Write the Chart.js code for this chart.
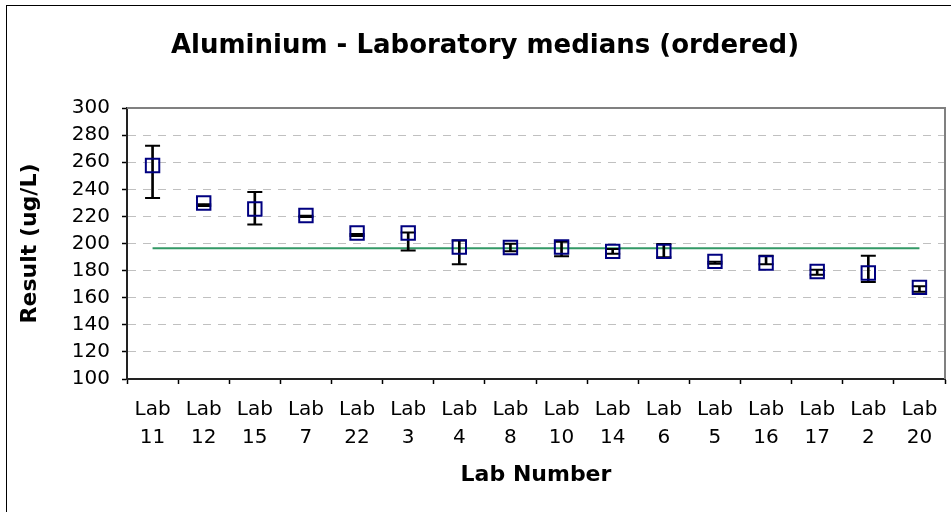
<!DOCTYPE html>
<html>
<head>
<meta charset="utf-8">
<script src="https://cdn.jsdelivr.net/npm/chart.js@4/dist/chart.umd.min.js"></script>
<style>
  body { margin: 0; background: #fff; }
  canvas { display: block; }
</style>
</head>
<body>
<canvas id="medianChart" width="951" height="512"></canvas>
<script>
// lab order as in the picture (sorted by median)
const labs = ['Lab 11', 'Lab 12', 'Lab 15', 'Lab 7', 'Lab 22', 'Lab 3', 'Lab 4', 'Lab 8',
  'Lab 10', 'Lab 14', 'Lab 6', 'Lab 5', 'Lab 16', 'Lab 17', 'Lab 2', 'Lab 20']
const medians = [257.6, 229.9, 225.5, 220.7, 207.7, 207.7, 197.4, 197.1,
  197.4, 194.2, 194.2, 186.8, 185.6, 179.4, 178.2, 167.6]
const errHigh = [272.2, 229.0, 238.0, 220.5, 207.0, 208.2, 202.3, 199.9,
  201.3, 196.0, 199.6, 186.5, 191.0, 180.7, 191.0, 168.4]
const errLow = [233.6, 227.6, 214.1, 219.6, 205.6, 194.9, 184.6, 194.2,
  190.5, 192.5, 189.8, 185.1, 184.6, 177.0, 171.6, 164.4]
// assigned value line
const assigned = [196.5, 196.5, 196.5, 196.5, 196.5, 196.5, 196.5, 196.5,
  196.5, 196.5, 196.5, 196.5, 196.5, 196.5, 196.5, 196.5]
const yTicks = [100, 120, 140, 160, 180, 200, 220, 240, 260, 280, 300]
const chartTitle = 'Aluminium - Laboratory medians (ordered)'

const FONT = "'DejaVu Sans', Verdana, sans-serif"

const frame = {
  id: 'frame',
  beforeDraw(chart) {
    const ctx = chart.ctx
    ctx.save()
    ctx.fillStyle = '#fff'
    ctx.fillRect(0, 0, chart.width, chart.height)
    ctx.strokeStyle = '#000'
    ctx.lineWidth = 1
    ctx.strokeRect(6.5, 5.5, 970, 530)
    ctx.restore()
  },
  afterDraw(chart) {
    const {ctx, chartArea: a} = chart
    ctx.save()
    ctx.strokeStyle = '#808080'
    ctx.lineWidth = 2
    ctx.beginPath()
    ctx.moveTo(a.left, a.top)
    ctx.lineTo(a.right, a.top)
    ctx.lineTo(a.right, a.bottom)
    ctx.stroke()
    // title sits a bit right of the canvas centre
    ctx.fillStyle = '#000'
    ctx.font = 'bold 26px ' + FONT
    ctx.textAlign = 'center'
    ctx.textBaseline = 'middle'
    ctx.fillText(chartTitle, 485, 46)
    ctx.restore()
  }
}

new Chart(document.getElementById('medianChart'), {
  data: {
    labels: labs,
    datasets: [
      {
        type: 'line',
        label: 'Median',
        data: medians,
        showLine: false,
        pointStyle: 'rect',
        pointRadius: 9.5,
        pointBorderWidth: 2,
        pointBorderColor: '#000080',
        pointBackgroundColor: 'rgba(0,0,0,0)',
        order: 0
      },
      {
        type: 'line',
        label: 'high',
        data: errHigh,
        showLine: false,
        pointStyle: 'line',
        pointRadius: 7.5,
        pointBorderWidth: 2,
        pointBorderColor: '#000',
        order: 1
      },
      {
        type: 'line',
        label: 'low',
        data: errLow,
        showLine: false,
        pointStyle: 'line',
        pointRadius: 7.5,
        pointBorderWidth: 2,
        pointBorderColor: '#000',
        order: 1
      },
      {
        type: 'bar',
        label: 'range',
        data: errLow.map((lo, i) => [lo, errHigh[i]]),
        barThickness: 2,
        backgroundColor: '#000',
        order: 2
      },
      {
        type: 'line',
        label: 'Assigned',
        data: assigned,
        borderColor: '#339966',
        borderWidth: 2,
        pointRadius: 0,
        order: 3
      }
    ]
  },
  options: {
    responsive: false,
    animation: false,
    events: [],
    layout: { autoPadding: false, padding: { left: 0, right: 6, top: 108, bottom: 0 } },
    plugins: {
      legend: { display: false },
      tooltip: { enabled: false },
      title: { display: false }
    },
    scales: {
      x: {
        offset: true,
        afterFit(s) {
          s.height = 133
          s.paddingLeft = 0
          s.paddingRight = 0
        },
        grid: {
          offset: true,
          drawOnChartArea: false,
          tickLength: 5,
          tickColor: '#000',
          tickWidth: 1.5
        },
        border: { color: '#222', width: 2 },
        ticks: {
          color: '#000',
          padding: 12,
          maxRotation: 0,
          autoSkip: false,
          font: { family: FONT, size: 20, lineHeight: 1.4 },
          callback(v) { return labs[v].split(' ') }
        },
        title: {
          display: true,
          text: 'Lab Number',
          color: '#000',
          font: { family: FONT, size: 22, weight: 'bold' },
          padding: { top: 0, bottom: 24 }
        }
      },
      y: {
        min: 100,
        max: 300,
        afterFit(s) { s.width = 127 },
        afterBuildTicks(s) { s.ticks = yTicks.map(v => ({ value: v })) },
        grid: {
          color: '#c0c0c0',
          lineWidth: 1,
          tickColor: '#000',
          tickLength: 5,
          tickWidth: 1.5
        },
        border: { color: '#222', width: 2, dash: [8, 7] },
        ticks: {
          color: '#000',
          padding: 12,
          font: { family: FONT, size: 20 }
        },
        title: {
          display: true,
          text: 'Result (ug/L)',
          color: '#000',
          font: { family: FONT, size: 22, weight: 'bold' },
          padding: { top: 17, bottom: 0 }
        }
      }
    }
  },
  plugins: [frame]
})
</script>
</body>
</html>
